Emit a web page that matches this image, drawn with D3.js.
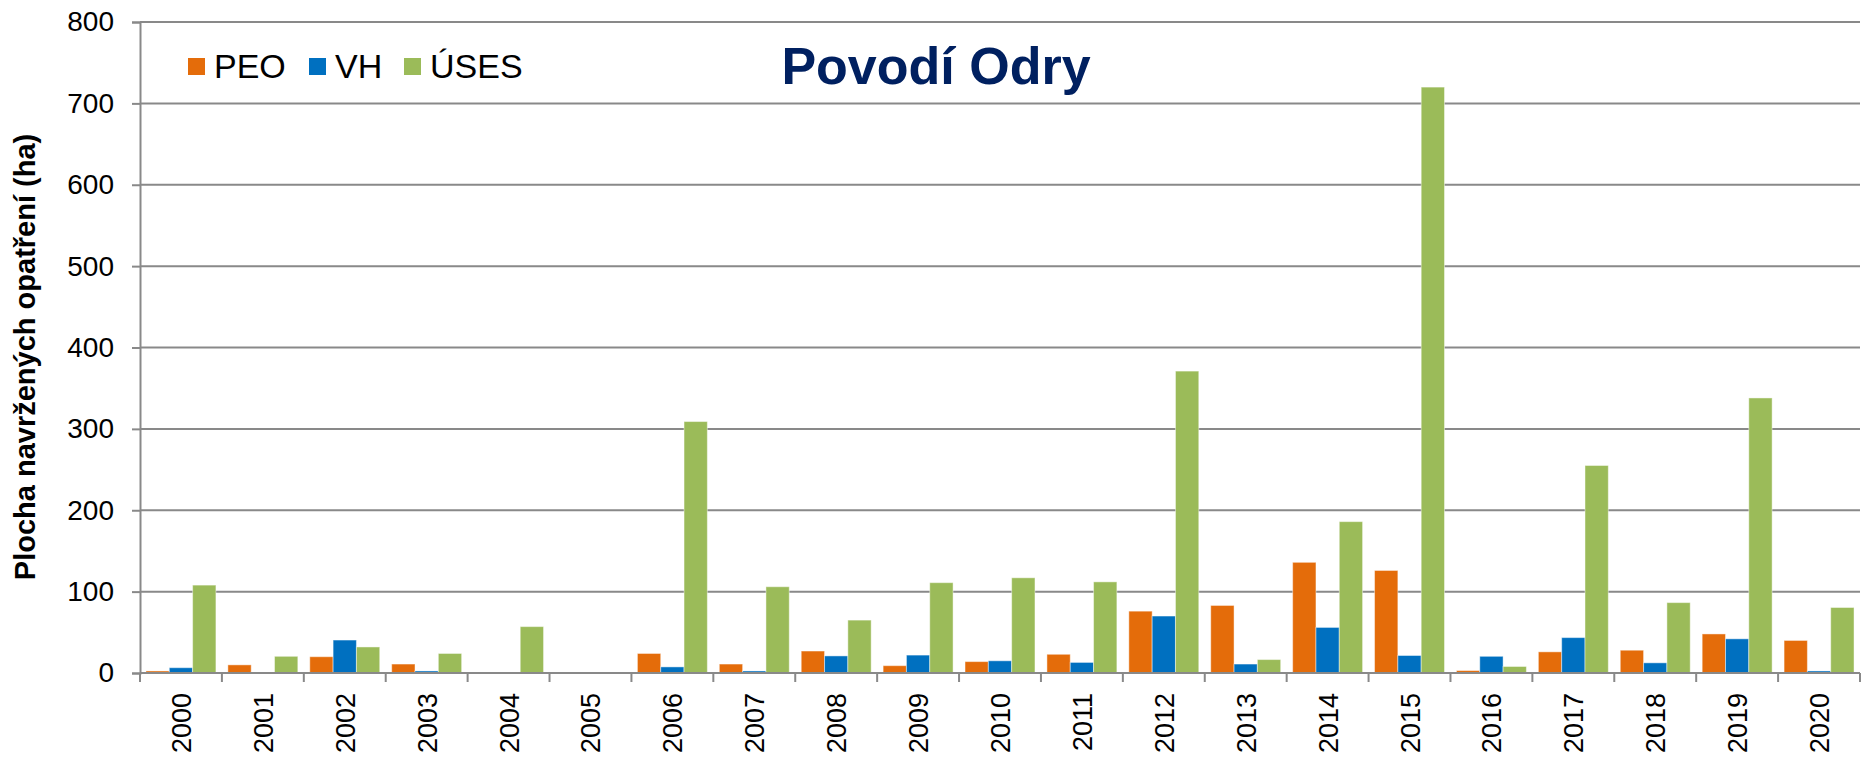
<!DOCTYPE html>
<html>
<head>
<meta charset="utf-8">
<script src="https://cdn.jsdelivr.net/npm/d3@7"></script>
<style>
  body { margin: 0; background: #fff; }
  svg text { font-family: "Liberation Sans", Arial, sans-serif; }
</style>
</head>
<body>
<div id="chart"></div>
<script>
// years on the x axis
const years = ["2000","2001","2002","2003","2004","2005","2006","2007","2008","2009","2010",
  "2011","2012","2013","2014","2015","2016","2017","2018","2019","2020"]

// values (ha)
const peo  = [2.5, 10, 20, 11, 0, 0, 24, 11, 27, 9, 14, 23, 76, 83, 136, 126, 3, 26, 28, 48, 40]
const vh   = [6.5, 1, 40.5, 2.5, 0, 0, 7.5, 2.5, 21, 22, 15, 13, 70, 11, 56, 21.5, 20.5, 43.5, 12.5, 42, 2.5]
const uses = [108, 20.5, 32, 24, 57, 0, 309, 106, 65, 111, 117, 112, 371, 16.5, 186, 720, 8, 255, 86.5, 338, 80.5]

const seriesNames = ["PEO", "VH", "ÚSES"]
const seriesColors = ["#E46C0A", "#0070C0", "#9BBB59"]
const yTicks = [0, 100, 200, 300, 400, 500, 600, 700, 800]

const W = 1864, H = 757
const margin = { top: 22, right: 4, bottom: 84, left: 140 }
const width = W - margin.left - margin.right
const height = H - margin.top - margin.bottom

const rows = years.map((y, i) => ({ year: y, values: [peo[i], vh[i], uses[i]] }))

const svg = d3.select("#chart").append("svg")
  .attr("width", W).attr("height", H)
const g = svg.append("g").attr("transform", `translate(${margin.left},${margin.top})`)

const x = d3.scaleBand()
  .domain(years)
  .range([0, width])
  .paddingInner(0.146)
  .paddingOuter(0.073)

const xs = d3.scaleBand()
  .domain(d3.range(3))
  .range([0, x.bandwidth()])

const y = d3.scaleLinear()
  .domain([0, 800])
  .range([height, 0])

const gridColor = "#898989"

// horizontal gridlines
g.append("g")
  .selectAll("line")
  .data(yTicks.filter(d => d > 0))
  .join("line")
  .attr("x1", 0).attr("x2", width)
  .attr("y1", d => y(d)).attr("y2", d => y(d))
  .attr("stroke", gridColor)
  .attr("stroke-width", 2)

// bars
g.append("g")
  .selectAll("g")
  .data(rows)
  .join("g")
  .attr("transform", d => `translate(${x(d.year)},0)`)
  .selectAll("rect")
  .data(d => d.values.map((v, i) => ({ v, i })))
  .join("rect")
  .attr("x", d => xs(d.i))
  .attr("width", xs.bandwidth())
  .attr("y", d => y(d.v))
  .attr("height", d => y(0) - y(d.v))
  .attr("fill", d => seriesColors[d.i])
  .attr("stroke", "#fff")
  .attr("stroke-opacity", 0.45)
  .attr("stroke-width", 1)

// y axis
const yAxis = g.append("g")
  .call(d3.axisLeft(y).tickValues(yTicks).tickSize(8).tickPadding(18))
yAxis.select(".domain").attr("stroke", gridColor).attr("stroke-width", 2)
yAxis.selectAll(".tick line").attr("stroke", gridColor).attr("stroke-width", 2)
yAxis.selectAll("text").attr("font-size", 28).attr("fill", "#000")
  .attr("font-family", "Liberation Sans, Arial, sans-serif")

// x axis: ticks on category boundaries
const xAxis = g.append("g").attr("transform", `translate(0,${height})`)
xAxis.append("line")
  .attr("x1", 0).attr("x2", width)
  .attr("stroke", gridColor).attr("stroke-width", 2)
xAxis.selectAll(".bt")
  .data(d3.range(years.length + 1))
  .join("line")
  .attr("class", "bt")
  .attr("x1", i => i * x.step()).attr("x2", i => i * x.step())
  .attr("y1", 0).attr("y2", 9)
  .attr("stroke", gridColor).attr("stroke-width", 2)
xAxis.selectAll(".lbl")
  .data(years)
  .join("text")
  .attr("class", "lbl")
  .attr("transform", d => `translate(${x(d) + x.bandwidth() / 2 + 10},20) rotate(-90)`)
  .attr("text-anchor", "end")
  .attr("font-size", 27)
  .attr("fill", "#000")
  .text(d => d)

// y axis title
svg.append("text")
  .attr("transform", "translate(35,357) rotate(-90)")
  .attr("text-anchor", "middle")
  .attr("font-size", 29)
  .attr("font-weight", "bold")
  .attr("fill", "#000")
  .text("Plocha navržených opatření (ha)")

// legend
const legendX = [188, 309, 404]
const legend = svg.append("g")
seriesNames.forEach((name, i) => {
  legend.append("rect")
    .attr("x", legendX[i]).attr("y", 58)
    .attr("width", 17).attr("height", 17)
    .attr("fill", seriesColors[i])
  legend.append("text")
    .attr("x", legendX[i] + 26).attr("y", 78)
    .attr("font-size", 34)
    .attr("fill", "#000")
    .text(name)
})

// title
svg.append("text")
  .attr("x", 936).attr("y", 84)
  .attr("text-anchor", "middle")
  .attr("font-size", 52)
  .attr("font-weight", "bold")
  .attr("fill", "#002060")
  .text("Povodí Odry")
</script>
</body>
</html>
